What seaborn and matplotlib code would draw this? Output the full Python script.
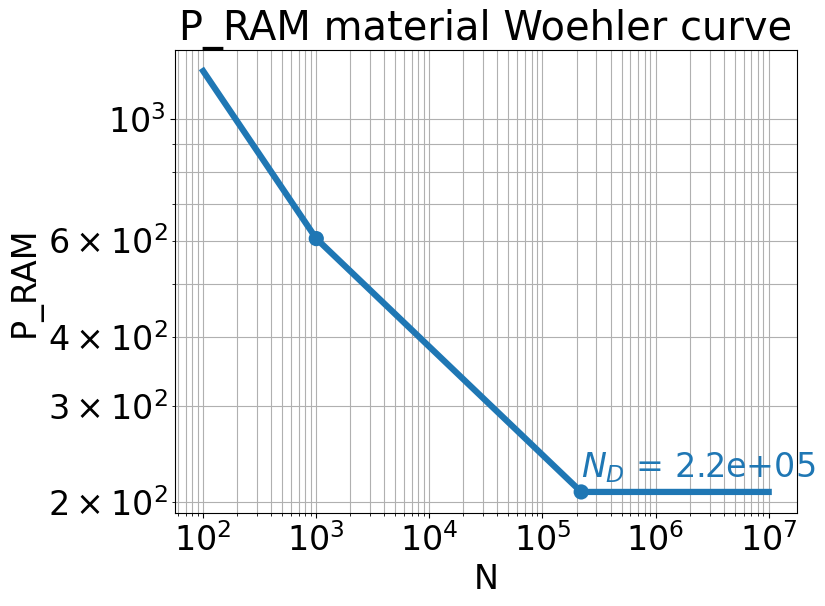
import numpy as np
import pandas as pd
import matplotlib
matplotlib.use('Agg')
import matplotlib.pyplot as plt
import seaborn as sns

# Woehler curve values
N = [1e2, 1e3, 2.2e5, 1e7]
P_RAM = [1222, 605, 209, 209]
# marked points: slope change and endurance limit
N_marks = [1e3, 2.2e5]
P_marks = [605, 209]
N_D = 2.2e5

df = pd.DataFrame({'N': N, 'P_RAM': P_RAM})
df_marks = pd.DataFrame({'N': N_marks, 'P_RAM': P_marks})

fig = plt.figure(figsize=(8.25, 6.06), dpi=100)
ax = fig.add_axes([0.212, 0.1535, 0.754, 0.764])

sns.lineplot(data=df, x='N', y='P_RAM', ax=ax, color='#1f77b4', linewidth=4.5)
sns.scatterplot(data=df_marks, x='N', y='P_RAM', ax=ax, color='#1f77b4',
                s=120, edgecolor='none', zorder=3)

ax.set_xscale('log')
ax.set_yscale('log')
ax.grid(True, which='both', color='#b0b0b0', linewidth=0.8)

ax.text(N_D, P_marks[1] * 1.03, '$N_D$ = %.1e' % N_D, color='#1f77b4',
        fontsize=24, ha='left', va='bottom')

ax.set_title('P_RAM material Woehler curve', fontsize=28.8)
ax.set_xlabel('N', fontsize=24)
ax.set_ylabel('P_RAM', fontsize=24)
ax.tick_params(axis='both', which='both', labelsize=24)

plt.savefig('out.png', dpi=100)
